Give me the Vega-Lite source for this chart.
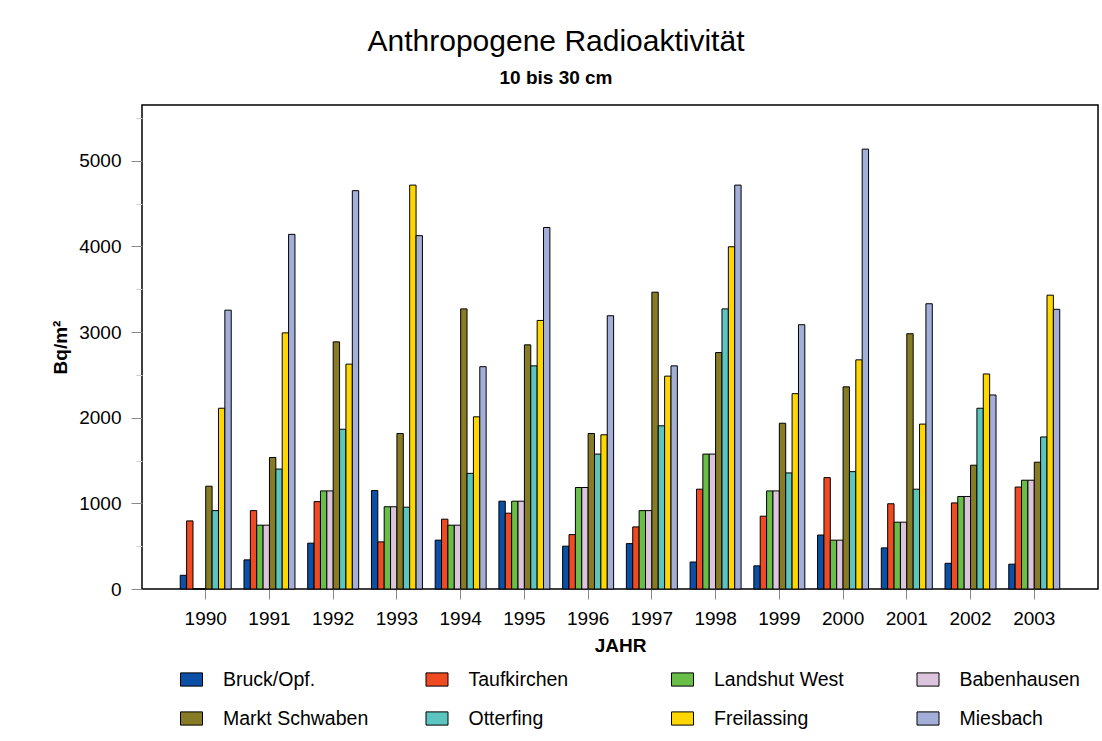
{
  "$schema": "https://vega.github.io/schema/vega-lite/v6.json",
  "width": 956,
  "height": 484,
  "autosize": {"type": "none"},
  "padding": {"left": 142, "top": 105, "right": 4, "bottom": 152},
  "background": "white",
  "config": {
    "font": "Liberation Sans",
    "view": {"stroke": "black", "strokeWidth": 1.5}
  },
  "title": {
    "text": "Anthropogene Radioaktivität",
    "subtitle": "10 bis 30 cm",
    "fontSize": 30,
    "fontWeight": "normal",
    "color": "black",
    "subtitleFontSize": 19,
    "subtitleFontWeight": "bold",
    "subtitleColor": "black",
    "anchor": "middle",
    "frame": "group",
    "dx": -64,
    "offset": 17,
    "subtitlePadding": 12
  },
  "data": {
    "values": [
      {"year": "1990", "site": "Bruck/Opf.", "value": 160},
      {"year": "1990", "site": "Taufkirchen", "value": 795},
      {"year": "1990", "site": "Landshut West", "value": 0},
      {"year": "1990", "site": "Babenhausen", "value": 0},
      {"year": "1990", "site": "Markt Schwaben", "value": 1200},
      {"year": "1990", "site": "Otterfing", "value": 915},
      {"year": "1990", "site": "Freilassing", "value": 2110},
      {"year": "1990", "site": "Miesbach", "value": 3255},
      {"year": "1991", "site": "Bruck/Opf.", "value": 340},
      {"year": "1991", "site": "Taufkirchen", "value": 915},
      {"year": "1991", "site": "Landshut West", "value": 745},
      {"year": "1991", "site": "Babenhausen", "value": 745},
      {"year": "1991", "site": "Markt Schwaben", "value": 1535},
      {"year": "1991", "site": "Otterfing", "value": 1400},
      {"year": "1991", "site": "Freilassing", "value": 2990},
      {"year": "1991", "site": "Miesbach", "value": 4140},
      {"year": "1992", "site": "Bruck/Opf.", "value": 535},
      {"year": "1992", "site": "Taufkirchen", "value": 1020},
      {"year": "1992", "site": "Landshut West", "value": 1145},
      {"year": "1992", "site": "Babenhausen", "value": 1145},
      {"year": "1992", "site": "Markt Schwaben", "value": 2885},
      {"year": "1992", "site": "Otterfing", "value": 1865},
      {"year": "1992", "site": "Freilassing", "value": 2625},
      {"year": "1992", "site": "Miesbach", "value": 4650},
      {"year": "1993", "site": "Bruck/Opf.", "value": 1150},
      {"year": "1993", "site": "Taufkirchen", "value": 550},
      {"year": "1993", "site": "Landshut West", "value": 960},
      {"year": "1993", "site": "Babenhausen", "value": 960},
      {"year": "1993", "site": "Markt Schwaben", "value": 1815},
      {"year": "1993", "site": "Otterfing", "value": 955},
      {"year": "1993", "site": "Freilassing", "value": 4715},
      {"year": "1993", "site": "Miesbach", "value": 4125},
      {"year": "1994", "site": "Bruck/Opf.", "value": 570},
      {"year": "1994", "site": "Taufkirchen", "value": 815},
      {"year": "1994", "site": "Landshut West", "value": 745},
      {"year": "1994", "site": "Babenhausen", "value": 745},
      {"year": "1994", "site": "Markt Schwaben", "value": 3270},
      {"year": "1994", "site": "Otterfing", "value": 1350},
      {"year": "1994", "site": "Freilassing", "value": 2010},
      {"year": "1994", "site": "Miesbach", "value": 2595},
      {"year": "1995", "site": "Bruck/Opf.", "value": 1025},
      {"year": "1995", "site": "Taufkirchen", "value": 885},
      {"year": "1995", "site": "Landshut West", "value": 1025},
      {"year": "1995", "site": "Babenhausen", "value": 1025},
      {"year": "1995", "site": "Markt Schwaben", "value": 2850},
      {"year": "1995", "site": "Otterfing", "value": 2605},
      {"year": "1995", "site": "Freilassing", "value": 3135},
      {"year": "1995", "site": "Miesbach", "value": 4220},
      {"year": "1996", "site": "Bruck/Opf.", "value": 500},
      {"year": "1996", "site": "Taufkirchen", "value": 635},
      {"year": "1996", "site": "Landshut West", "value": 1185},
      {"year": "1996", "site": "Babenhausen", "value": 1185},
      {"year": "1996", "site": "Markt Schwaben", "value": 1815},
      {"year": "1996", "site": "Otterfing", "value": 1575},
      {"year": "1996", "site": "Freilassing", "value": 1800},
      {"year": "1996", "site": "Miesbach", "value": 3190},
      {"year": "1997", "site": "Bruck/Opf.", "value": 530},
      {"year": "1997", "site": "Taufkirchen", "value": 725},
      {"year": "1997", "site": "Landshut West", "value": 915},
      {"year": "1997", "site": "Babenhausen", "value": 915},
      {"year": "1997", "site": "Markt Schwaben", "value": 3465},
      {"year": "1997", "site": "Otterfing", "value": 1905},
      {"year": "1997", "site": "Freilassing", "value": 2485},
      {"year": "1997", "site": "Miesbach", "value": 2605},
      {"year": "1998", "site": "Bruck/Opf.", "value": 315},
      {"year": "1998", "site": "Taufkirchen", "value": 1165},
      {"year": "1998", "site": "Landshut West", "value": 1575},
      {"year": "1998", "site": "Babenhausen", "value": 1575},
      {"year": "1998", "site": "Markt Schwaben", "value": 2760},
      {"year": "1998", "site": "Otterfing", "value": 3270},
      {"year": "1998", "site": "Freilassing", "value": 3995},
      {"year": "1998", "site": "Miesbach", "value": 4715},
      {"year": "1999", "site": "Bruck/Opf.", "value": 270},
      {"year": "1999", "site": "Taufkirchen", "value": 850},
      {"year": "1999", "site": "Landshut West", "value": 1145},
      {"year": "1999", "site": "Babenhausen", "value": 1145},
      {"year": "1999", "site": "Markt Schwaben", "value": 1935},
      {"year": "1999", "site": "Otterfing", "value": 1355},
      {"year": "1999", "site": "Freilassing", "value": 2280},
      {"year": "1999", "site": "Miesbach", "value": 3085},
      {"year": "2000", "site": "Bruck/Opf.", "value": 630},
      {"year": "2000", "site": "Taufkirchen", "value": 1300},
      {"year": "2000", "site": "Landshut West", "value": 570},
      {"year": "2000", "site": "Babenhausen", "value": 570},
      {"year": "2000", "site": "Markt Schwaben", "value": 2360},
      {"year": "2000", "site": "Otterfing", "value": 1370},
      {"year": "2000", "site": "Freilassing", "value": 2675},
      {"year": "2000", "site": "Miesbach", "value": 5135},
      {"year": "2001", "site": "Bruck/Opf.", "value": 480},
      {"year": "2001", "site": "Taufkirchen", "value": 995},
      {"year": "2001", "site": "Landshut West", "value": 780},
      {"year": "2001", "site": "Babenhausen", "value": 780},
      {"year": "2001", "site": "Markt Schwaben", "value": 2980},
      {"year": "2001", "site": "Otterfing", "value": 1165},
      {"year": "2001", "site": "Freilassing", "value": 1925},
      {"year": "2001", "site": "Miesbach", "value": 3330},
      {"year": "2002", "site": "Bruck/Opf.", "value": 300},
      {"year": "2002", "site": "Taufkirchen", "value": 1005},
      {"year": "2002", "site": "Landshut West", "value": 1080},
      {"year": "2002", "site": "Babenhausen", "value": 1080},
      {"year": "2002", "site": "Markt Schwaben", "value": 1445},
      {"year": "2002", "site": "Otterfing", "value": 2110},
      {"year": "2002", "site": "Freilassing", "value": 2510},
      {"year": "2002", "site": "Miesbach", "value": 2265},
      {"year": "2003", "site": "Bruck/Opf.", "value": 290},
      {"year": "2003", "site": "Taufkirchen", "value": 1190},
      {"year": "2003", "site": "Landshut West", "value": 1270},
      {"year": "2003", "site": "Babenhausen", "value": 1270},
      {"year": "2003", "site": "Markt Schwaben", "value": 1480},
      {"year": "2003", "site": "Otterfing", "value": 1775},
      {"year": "2003", "site": "Freilassing", "value": 3430},
      {"year": "2003", "site": "Miesbach", "value": 3265}
    ]
  },
  "mark": {"type": "bar", "stroke": "black", "strokeWidth": 1},
  "encoding": {
    "x": {
      "field": "year",
      "type": "ordinal",
      "scale": {"paddingInner": 0.2, "paddingOuter": 0.6},
      "axis": {
        "title": "JAHR",
        "titleFontSize": 19,
        "titleFontWeight": "bold",
        "titleColor": "black",
        "titlePadding": 8,
        "labelAngle": 0,
        "labelFontSize": 19,
        "labelColor": "black",
        "labelPadding": 10,
        "tickColor": "#888888",
        "tickSize": 10,
        "domain": false
      }
    },
    "xOffset": {
      "field": "site",
      "type": "nominal",
      "sort": ["Bruck/Opf.", "Taufkirchen", "Landshut West", "Babenhausen", "Markt Schwaben", "Otterfing", "Freilassing", "Miesbach"],
      "scale": {"paddingInner": 0, "paddingOuter": 0}
    },
    "y": {
      "field": "value",
      "type": "quantitative",
      "scale": {"domain": [0, 5650], "nice": false},
      "axis": {
        "title": "Bq/m²",
        "titleFontSize": 19,
        "titleFontWeight": "bold",
        "titleColor": "black",
        "titlePadding": 8,
        "values": [0, 500, 1000, 1500, 2000, 2500, 3000, 3500, 4000, 4500, 5000, 5500],
        "format": "d",
        "labelExpr": "datum.value % 1000 === 0 ? datum.label : ''",
        "labelFontSize": 19,
        "labelColor": "black",
        "labelPadding": 10,
        "tickSize": {"condition": {"test": "datum.value % 1000 === 0", "value": 11}, "value": 6},
        "tickColor": {"condition": {"test": "datum.value % 1000 === 0", "value": "#888888"}, "value": "#cccccc"},
        "grid": false,
        "domain": false
      }
    },
    "color": {
      "field": "site",
      "type": "nominal",
      "scale": {
        "domain": ["Bruck/Opf.", "Taufkirchen", "Landshut West", "Babenhausen", "Markt Schwaben", "Otterfing", "Freilassing", "Miesbach"],
        "range": ["#0b4fa6", "#f04a23", "#69be47", "#dcc4dd", "#877c25", "#5cc5c0", "#ffd700", "#a4afd9"]
      },
      "legend": {
        "title": null,
        "orient": "none",
        "legendX": 38,
        "legendY": 563,
        "direction": "horizontal",
        "columns": 4,
        "gridAlign": "all",
        "columnPadding": 54.5,
        "rowPadding": 18,
        "padding": 0,
        "symbolType": "M-1,-0.6H1V0.6H-1Z",
        "symbolSize": 484,
        "symbolStrokeColor": "black",
        "symbolStrokeWidth": 1,
        "symbolOpacity": 1,
        "labelFontSize": 19.5,
        "labelColor": "black",
        "labelOffset": 20,
        "labelLimit": 300
      }
    }
  }
}
